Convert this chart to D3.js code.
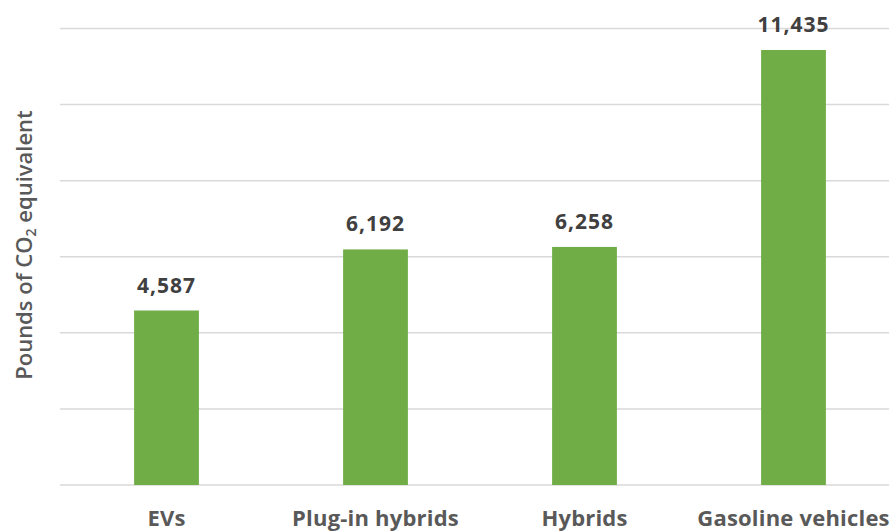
<!DOCTYPE html>
<html>
<head>
<meta charset="utf-8">
<script src="https://d3js.org/d3.v7.min.js"></script>
<style>
  body { margin: 0; background: #fff; }
  svg { display: block; font-family: "Open Sans", Lato, sans-serif; }
</style>
</head>
<body>
<svg width="889" height="531"></svg>
<script>
// data
var categories = ["EVs", "Plug-in hybrids", "Hybrids", "Gasoline vehicles"];
var emissions = [4587, 6192, 6258, 11435];
var yTicks = [0, 2000, 4000, 6000, 8000, 10000, 12000];

var svg = d3.select("svg");
var plotLeft = 60, plotRight = 898, plotTop = 28.5, plotBottom = 485;

var x = d3.scaleBand()
    .domain(categories)
    .range([62, 898])
    .paddingInner(0.69)
    .paddingOuter(0.345);

var y = d3.scaleLinear()
    .domain([0, 12000])
    .range([plotBottom, plotTop]);

// gridlines
svg.append("g")
    .selectAll("line")
    .data(yTicks)
    .enter()
    .append("line")
    .attr("x1", plotLeft)
    .attr("x2", plotRight)
    .attr("y1", function(d) { return y(d); })
    .attr("y2", function(d) { return y(d); })
    .attr("stroke", "#d9d9d9")
    .attr("stroke-width", 1.5);

var rows = categories.map(function(c, i) { return { cat: c, val: emissions[i] }; });

// bars
svg.append("g")
    .selectAll("rect")
    .data(rows)
    .enter()
    .append("rect")
    .attr("x", function(d) { return x(d.cat); })
    .attr("width", x.bandwidth())
    .attr("y", function(d) { return y(d.val); })
    .attr("height", function(d) { return plotBottom - y(d.val); })
    .attr("fill", "#70ad47");

// value labels
svg.append("g")
    .selectAll("text")
    .data(rows)
    .enter()
    .append("text")
    .attr("x", function(d) { return x(d.cat) + x.bandwidth() / 2; })
    .attr("y", function(d) { return y(d.val) - 18; })
    .attr("text-anchor", "middle")
    .attr("font-size", 21)
    .attr("letter-spacing", 1)
    .attr("font-weight", "bold")
    .attr("fill", "#404040")
    .text(function(d) { return d3.format(",")(d.val); });

// x axis labels
var xAxis = svg.append("g")
    .attr("transform", "translate(0," + plotBottom + ")")
    .call(d3.axisBottom(x).tickSize(0).tickPadding(0));
xAxis.select(".domain").remove();
xAxis.selectAll("text")
    .attr("y", 41)
    .attr("dy", 0)
    .attr("font-family", "'Open Sans', sans-serif")
    .attr("font-size", 22)
    .attr("letter-spacing", 0.2)
    .attr("font-weight", "bold")
    .attr("fill", "#595959");

// y title
var yt = svg.append("text")
    .attr("transform", "translate(32,245) rotate(-90)")
    .attr("text-anchor", "middle")
    .attr("font-size", 22)
    .attr("font-weight", 600)
    .attr("fill", "#595959");
yt.append("tspan").text("Pounds of CO");
yt.append("tspan").attr("font-size", 14).attr("dy", 4).text("2");
yt.append("tspan").attr("dy", -4).text(" equivalent");
</script>
</body>
</html>
